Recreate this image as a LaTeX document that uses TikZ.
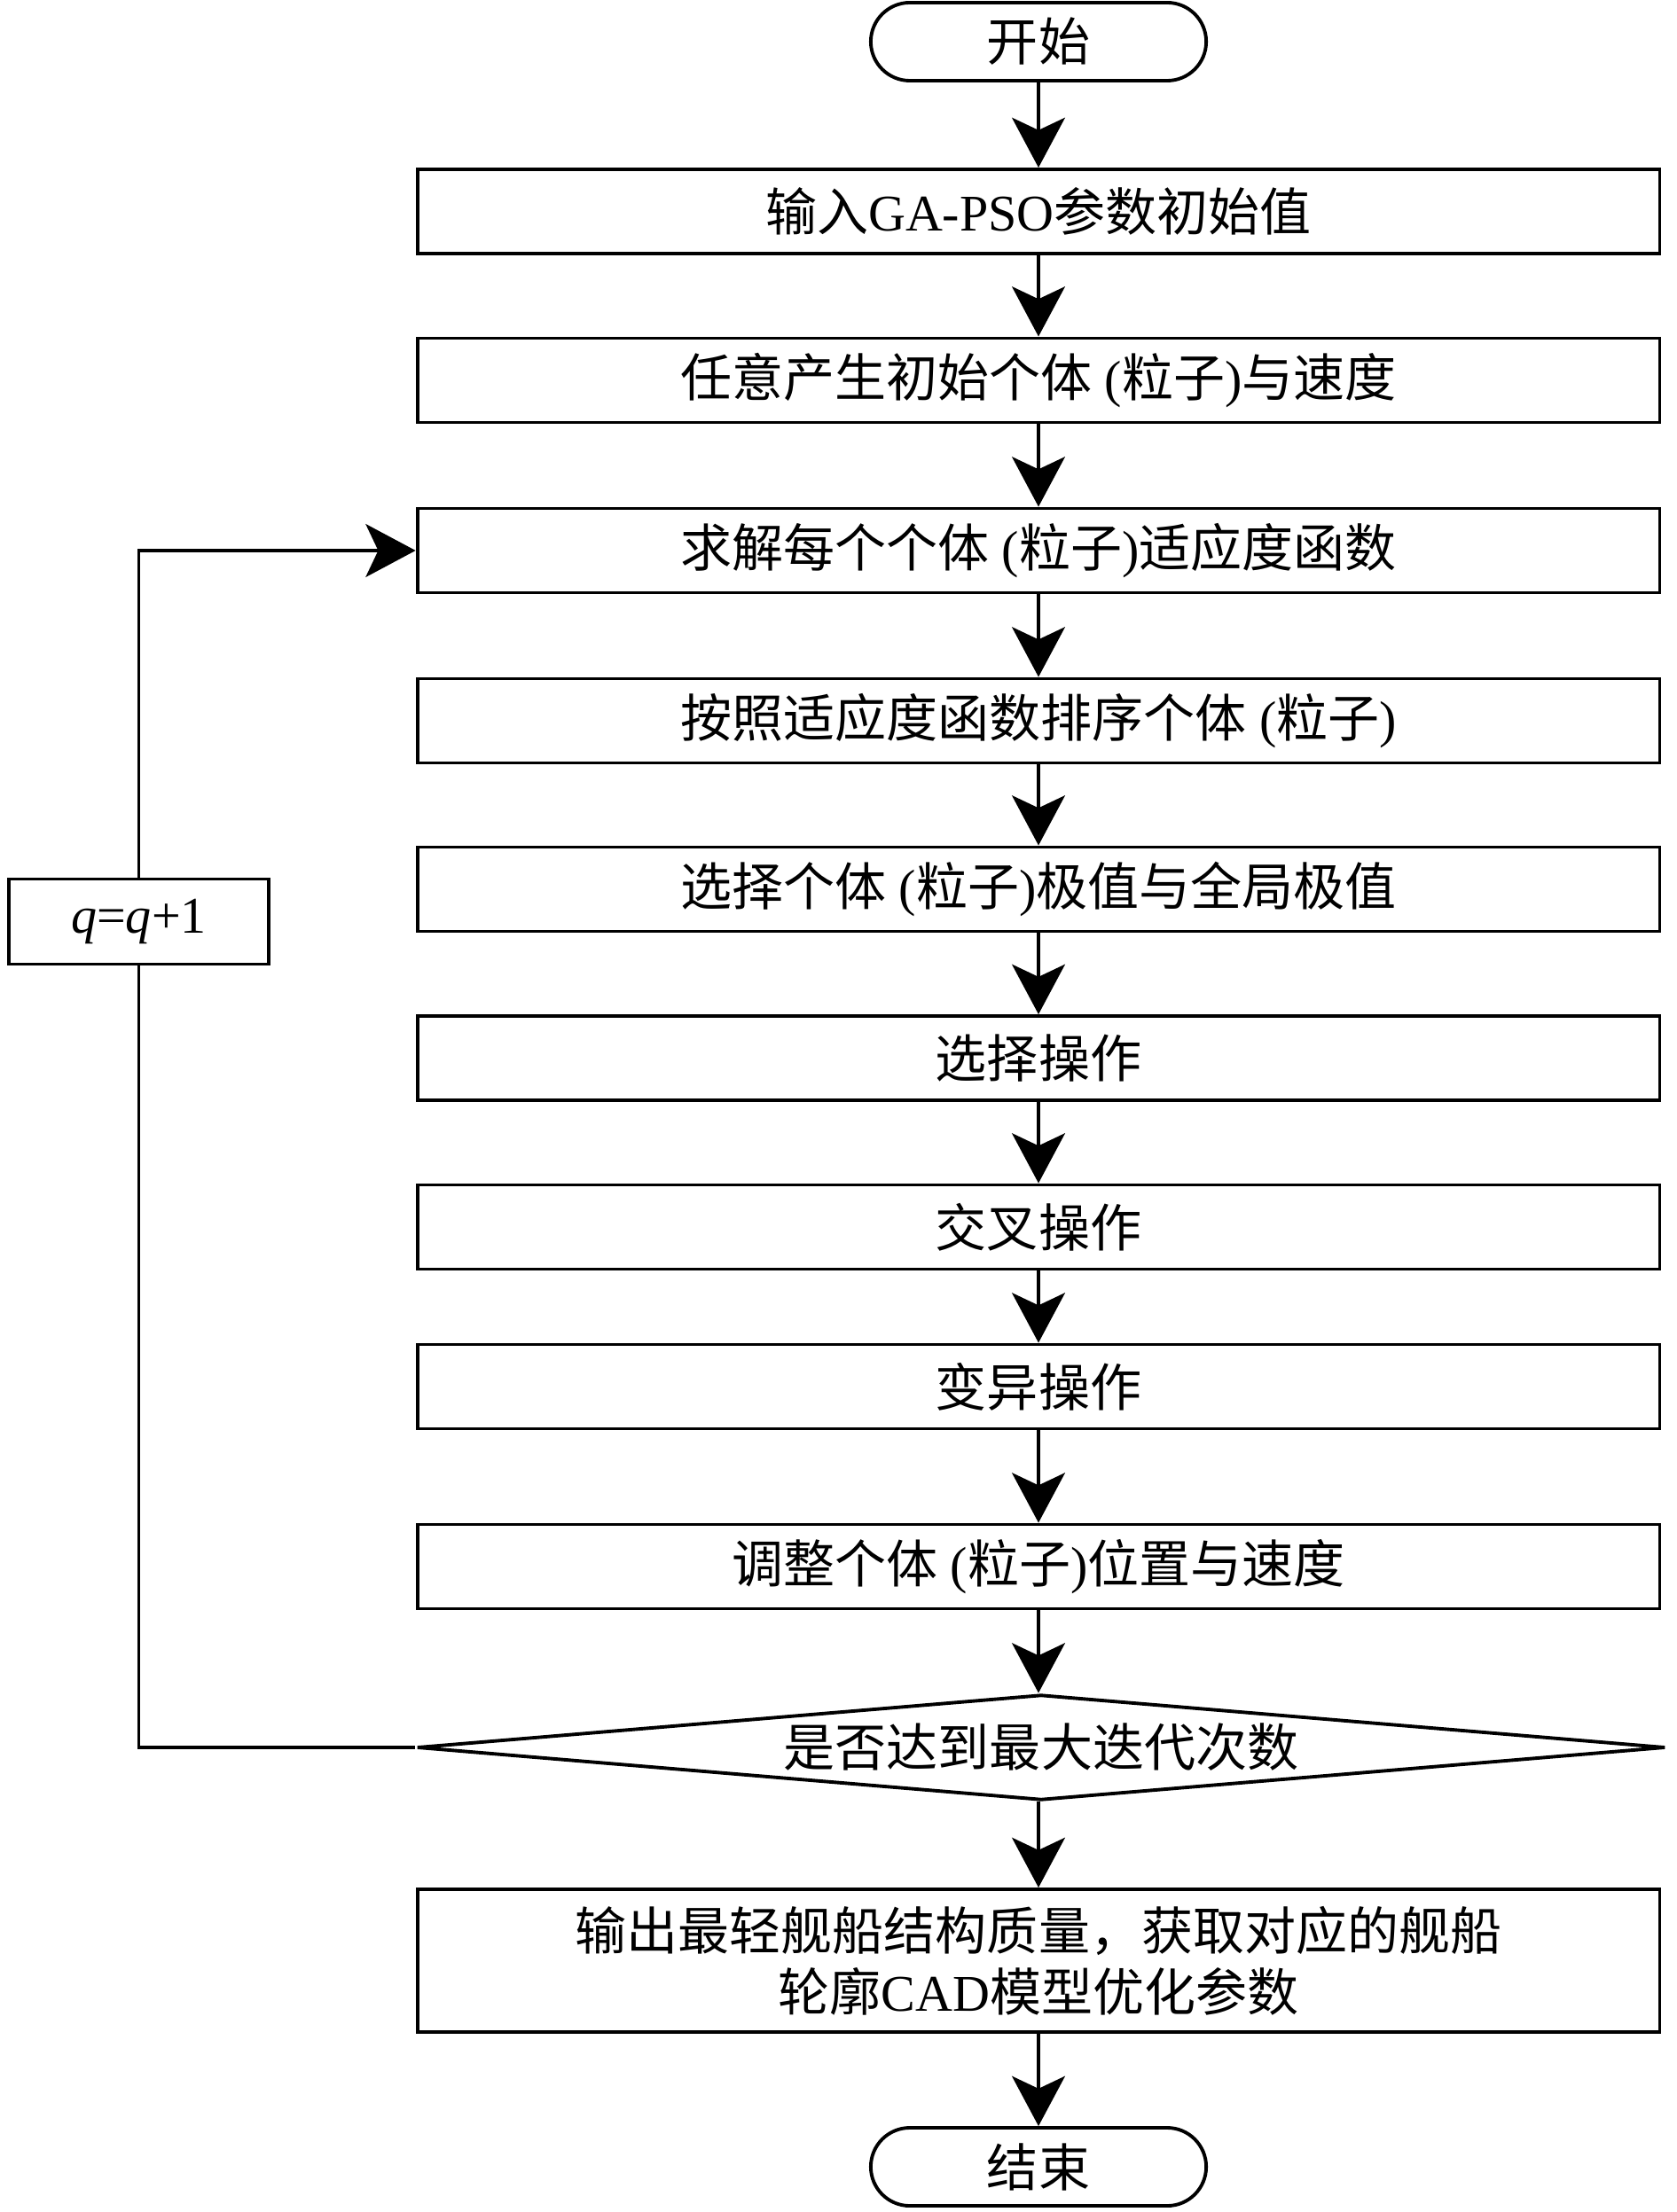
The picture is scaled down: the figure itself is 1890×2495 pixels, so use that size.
\documentclass[tikz,border=0pt]{standalone}
\usepackage{fontspec}
\setmainfont{Liberation Serif}
\newfontfamily\cjk{Noto Sans CJK SC}
\usetikzlibrary{arrows.meta,shapes.geometric}
\newcommand{\zh}[1]{{\cjk #1}}
\begin{document}
\begin{tikzpicture}[x=0.01cm,y=-0.01cm, line width=1.1pt,
  every node/.style={font=\fontsize{16.5}{19.5}\selectfont},
  box/.style={draw, rectangle, minimum width=14cm, minimum height=0.95cm, inner sep=0pt, align=center},
  term/.style={draw, rectangle, rounded corners=0.44cm, minimum width=3.78cm, minimum height=0.88cm, inner sep=0pt},
  decision/.style={draw, diamond, minimum width=14.07cm, minimum height=1.19cm, inner sep=0pt, aspect=11.8},
  arr/.style={-{Stealth[length=16pt,width=17pt,inset=4pt]}}]
\useasboundingbox (0,0) rectangle (1890,2495);
\node[term] (start) at (1171,47) {\zh{开始}};
\node[box] (b1) at (1171,238.5) {\zh{输入}GA-PSO\zh{参数初始值}};
\node[box] (b2) at (1171,429) {\zh{任意产生初始个体} (\zh{粒子})\zh{与速度}};
\node[box] (b3) at (1171,621) {\zh{求解每个个体} (\zh{粒子})\zh{适应度函数}};
\node[box] (b4) at (1171,813) {\zh{按照适应度函数排序个体} (\zh{粒子})};
\node[box] (b5) at (1171,1003) {\zh{选择个体} (\zh{粒子})\zh{极值与全局极值}};
\node[box] (b6) at (1171,1193.5) {\zh{选择操作}};
\node[box] (b7) at (1171,1384) {\zh{交叉操作}};
\node[box] (b8) at (1171,1564) {\zh{变异操作}};
\node[box] (b9) at (1171,1767) {\zh{调整个体} (\zh{粒子})\zh{位置与速度}};
\node[decision] (dec) at (1174,1971) {\zh{是否达到最大迭代次数}};
\node[box, minimum height=1.61cm] (b10) at (1171,2211.5) {\zh{输出最轻舰船结构质量，获取对应的舰船}\\\zh{轮廓}CAD\zh{模型优化参数}};
\node[term] (stop) at (1171,2444) {\zh{结束}};
\node[draw, rectangle, minimum width=2.93cm, minimum height=0.96cm, inner sep=0pt] (q) at (156.5,1039.5) {\textit{q}=\textit{q}+1};
\draw[arr] (start) -- (b1);
\draw[arr] (b1) -- (b2);
\draw[arr] (b2) -- (b3);
\draw[arr] (b3) -- (b4);
\draw[arr] (b4) -- (b5);
\draw[arr] (b5) -- (b6);
\draw[arr] (b6) -- (b7);
\draw[arr] (b7) -- (b8);
\draw[arr] (b8) -- (b9);
\draw[arr] (b9.south) -- (b9.south |- dec.north);
\draw[arr] (dec.south -| b10.north) -- (b10.north);
\draw[arr] (b10) -- (stop);
\draw (dec.west) -- (dec.west -| q.south) -- (q.south);
\draw[arr] (q.north) -- (q.north |- b3.west) -- (b3.west);
\end{tikzpicture}
\end{document}
